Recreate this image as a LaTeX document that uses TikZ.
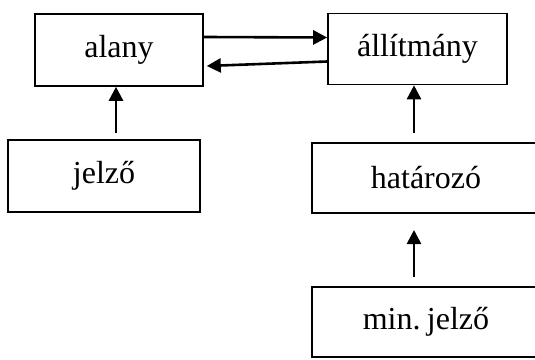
\documentclass[tikz,border=0pt]{standalone}
\usepackage{fontspec}
\setmainfont{Liberation Serif}
\usetikzlibrary{arrows.meta}
\begin{document}
\begin{tikzpicture}[x=1pt,y=1pt,
  box/.style={draw,line width=1.6pt,rectangle,inner sep=0pt,
    font=\fontsize{32}{38}\selectfont},
  arr/.style={line width=2.6pt,-{Triangle[length=14pt,width=14pt]}}]
\clip (0,0) rectangle (535,359);
\node[box,minimum width=168pt,minimum height=72pt] (alany) at (119,309) {alany};
\node[box,minimum width=179pt,minimum height=71pt] (allit) at (417.5,310) {állítmány};
\node[box,minimum width=192pt,minimum height=72pt] (jelzo) at (104,183) {jelző};
\node[box,minimum width=228pt,minimum height=70pt] (hat) at (426,181) {határozó};
\node[box,minimum width=228pt,minimum height=70pt] (minj) at (426,37) {min.\hspace{0.2em}jelző};
\coordinate (t1) at (116,226);
\coordinate (t2) at (414,226);
\coordinate (t3) at (414,82);
\coordinate (h3) at (414,129);
\draw[arr] ([yshift=13pt]alany.east) -- ([yshift=11.5pt]allit.west);
\draw[arr] ([yshift=-12.5pt]allit.west) -- ([yshift=-16pt,xshift=3pt]alany.east);
\draw[arr] (t1) -- (t1 |- alany.south);
\draw[arr] (t2) -- (t2 |- allit.south);
\draw[arr] (t3) -- (h3);
\end{tikzpicture}
\end{document}
